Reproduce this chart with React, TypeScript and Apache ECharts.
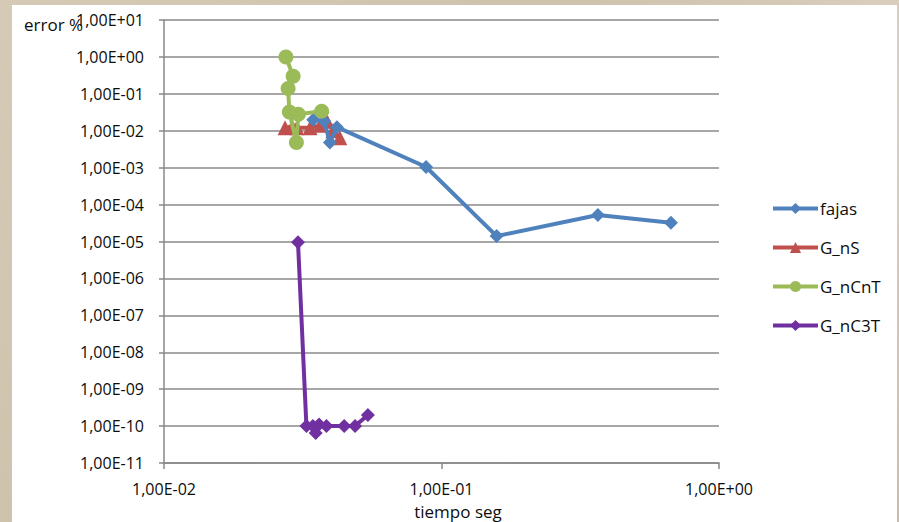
import React, { useEffect, useRef } from "react";
import * as echarts from "echarts";

const seriesNames = ["fajas", "G_nS", "G_nCnT", "G_nC3T"];

const fajas: [number, number][] = [
  [0.0345, 0.02],
  [0.0378, 0.018],
  [0.0396, 0.0048],
  [0.042, 0.0125],
  [0.088, 0.00104],
  [0.158, 0.000014],
  [0.366, 0.000052],
  [0.671, 0.000032],
];

const gNS: [number, number][] = [
  [0.0273, 0.012],
  [0.029, 0.013],
  [0.0301, 0.012],
  [0.0336, 0.012],
  [0.0365, 0.014],
  [0.0387, 0.018],
  [0.0406, 0.01],
  [0.043, 0.0065],
];

const gNCnT: [number, number][] = [
  [0.0275, 1.0],
  [0.0292, 0.3],
  [0.028, 0.14],
  [0.0283, 0.032],
  [0.03, 0.0048],
  [0.0305, 0.028],
  [0.037, 0.034],
];

const gNC3T: [number, number][] = [
  [0.0304, 0.0000095],
  [0.0326, 1e-10],
  [0.0344, 1e-10],
  [0.0352, 6.5e-11],
  [0.0362, 1.1e-10],
  [0.0385, 1e-10],
  [0.0446, 1e-10],
  [0.0488, 1e-10],
  [0.0543, 2e-10],
];

const colors = ["#4f81bd", "#c0504d", "#9bbb59", "#7030a0"];
const symbols = ["diamond", "triangle", "circle", "diamond"];
const symbolSizes = [14, 15, 15, 14];

const fmt = (v: number) => {
  const e = Math.round(Math.log10(v));
  const a = Math.abs(e);
  return "1,00E" + (e >= 0 ? "+" : "-") + (a < 10 ? "0" + a : String(a));
};

const FONT = "'Open Sans', Lato, sans-serif";
const TXT = "#0d0d0d";

export default function App() {
  const ref = useRef<HTMLDivElement>(null);
  useEffect(() => {
    if (!ref.current) return;
    const chart = echarts.init(ref.current, undefined, { renderer: "svg" });
    const datasets = [fajas, gNS, gNCnT, gNC3T];
    chart.setOption({
      animation: false,
      backgroundColor: "transparent",
      textStyle: { fontFamily: FONT },
      graphic: [
        {
          type: "rect",
          z: -10,
          silent: true,
          shape: { x: 12, y: 5, width: 885, height: 520 },
          style: { fill: "#ffffff" },
        },
        {
          type: "text",
          x: 24,
          y: 24,
          z: 10,
          style: {
            text: "error %",
            fill: TXT,
            font: "17px " + FONT,
            textVerticalAlign: "middle",
          },
        },
        {
          type: "text",
          x: 458,
          y: 511,
          z: 10,
          style: {
            text: "tiempo seg",
            fill: TXT,
            font: "17px " + FONT,
            textAlign: "center",
            textVerticalAlign: "middle",
          },
        },
      ],
      grid: { left: 164, right: 180, top: 20, bottom: 59, containLabel: false },
      xAxis: {
        type: "log",
        logBase: 10,
        min: 0.01,
        max: 1,
        interval: 1,
        axisLine: { show: true, lineStyle: { color: "#888888", width: 1.5 } },
        axisTick: { show: true, length: 6, lineStyle: { color: "#888888", width: 1.5 } },
        splitLine: { show: false },
        minorTick: { show: false },
        axisLabel: {
          formatter: fmt,
          margin: 18,
          color: TXT,
          fontSize: 16,
          fontFamily: FONT,
        },
      },
      yAxis: {
        type: "log",
        logBase: 10,
        min: 1e-11,
        max: 10,
        interval: 1,
        axisLine: { show: true, lineStyle: { color: "#888888", width: 1.5 } },
        axisTick: { show: true, length: 5, lineStyle: { color: "#888888", width: 1.5 } },
        splitLine: { show: true, lineStyle: { color: "#8a8a8a", width: 1.5 } },
        axisLabel: {
          formatter: fmt,
          margin: 20,
          color: TXT,
          fontSize: 16,
          fontFamily: FONT,
          showMinLabel: true,
          showMaxLabel: true,
          hideOverlap: false,
        },
      },
      legend: {
        orient: "vertical",
        left: 766,
        top: 195,
        itemWidth: 45,
        itemHeight: 14,
        itemGap: 22,
        lineStyle: { width: 4 },
        textStyle: { fontSize: 17, color: TXT, fontFamily: FONT, padding: [0, 0, 0, -3] },
        data: seriesNames,
      },
      series: seriesNames.map((name, i) => ({
        name,
        type: "line",
        data: datasets[i],
        symbol: symbols[i],
        symbolSize: symbolSizes[i],
        showAllSymbol: true,
        lineStyle: { color: colors[i], width: 4 },
        itemStyle: { color: colors[i] },
        z: 2 + (i === 1 ? 0 : i === 0 ? 1 : i),
      })),
    });
    return () => chart.dispose();
  }, []);
  return (
    <div
      style={{
        position: "fixed",
        left: 0,
        top: 0,
        width: 899,
        height: 522,
        background: "linear-gradient(135deg, #d6cab6 0%, #cfc2ad 40%, #dcd1c0 70%, #c9bca6 100%)",
      }}
    >
      <div ref={ref} style={{ width: 899, height: 522 }} />
    </div>
  );
}
